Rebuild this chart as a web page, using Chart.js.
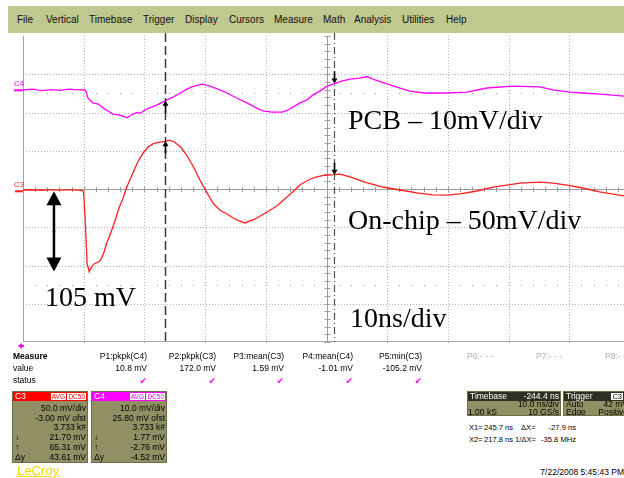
<!DOCTYPE html>
<html>
<head>
<meta charset="utf-8">
<script src="https://cdn.jsdelivr.net/npm/chart.js@4.4.1/dist/chart.umd.min.js"></script>
<style>
  html, body { margin: 0; padding: 0; }
  body {
    width: 624px; height: 478px; overflow: hidden; position: relative;
    background: #fff; color: #000;
    font-family: "Liberation Sans", Arial, sans-serif;
  }
  #scope { position: absolute; left: 0; top: 0; }
  .abs { position: absolute; white-space: nowrap; }
  .menu { position: absolute; left: 8px; top: 6px; width: 640px; height: 27px; background: #c0c78f; }
  .menu span { position: absolute; top: 8px; font-size: 10px; line-height: 11px; color: #111; }
  .note { position: absolute; white-space: nowrap; font-family: "Liberation Serif", "Times New Roman", serif;
          font-size: 28px; line-height: 28px; color: #000; }
  .chlab { position: absolute; font-size: 8px; line-height: 8px; }
  .meas { position: absolute; font-size: 8.5px; line-height: 11px; white-space: nowrap; }
  .grey { color: #b0b0b0; }
  .ok { position: absolute; font-family: "DejaVu Sans", sans-serif; font-size: 9px; line-height: 10px; color: #ff00ff; }
  .box { position: absolute; background: #909064; border: 1px solid #6e6e4a; box-sizing: border-box; overflow: hidden; }
  .box .hd { position: absolute; left: 0; top: 0; right: 0; height: 9px; }
  .box .hd span { position: absolute; top: 0; font-size: 8.5px; line-height: 9px; color: #fff; }
  .box .row { position: absolute; left: 0; right: 0; height: 10px; font-size: 8.5px; line-height: 10px; white-space: nowrap; }
  .box .row .l { position: absolute; left: 2px; }
  .box .row .r { position: absolute; right: 1px; }
  .tag { position: absolute; top: 1px; height: 7px; background: #fff; font-size: 6.5px; line-height: 7px; padding: 0 1px; }
  .info { position: absolute; font-size: 7.6px; line-height: 10px; white-space: nowrap; }
</style>
</head>
<body>
<canvas id="scope" width="640" height="350"></canvas>

<div class="menu">
  <span style="left:9px">File</span>
  <span style="left:38px">Vertical</span>
  <span style="left:81px">Timebase</span>
  <span style="left:135px">Trigger</span>
  <span style="left:177px">Display</span>
  <span style="left:221px">Cursors</span>
  <span style="left:266px">Measure</span>
  <span style="left:315px">Math</span>
  <span style="left:346px">Analysis</span>
  <span style="left:394px">Utilities</span>
  <span style="left:438px">Help</span>
</div>

<div class="chlab" style="left:14px;top:80px;color:#ff00ff">C4</div>
<div class="chlab" style="left:14px;top:181px;color:#ff2020">C3</div>

<div class="note" style="left:348px;top:106px">PCB – 10mV/div</div>
<div class="note" style="left:348px;top:206px">On-chip – 50mV/div</div>
<div class="note" style="left:45px;top:283px">105 mV</div>
<div class="note" style="left:350px;top:304px">10ns/div</div>

<!-- small marker below the grid -->
<div class="abs" style="left:18px;top:343px;width:0;height:0;border-top:3px solid transparent;border-bottom:3px solid transparent;border-right:4px solid #ff00ff"></div>
<div class="abs" style="left:21px;top:345px;width:3px;height:2px;background:#ff00ff"></div>

<!-- measurement table -->
<div class="meas" style="left:13px;top:351px;font-weight:bold">Measure</div>
<div class="meas" style="left:13px;top:363px">value</div>
<div class="meas" style="left:13px;top:375px">status</div>

<div class="meas" style="right:477px;top:351px">P1:pkpk(C4)</div>
<div class="meas" style="right:408px;top:351px">P2:pkpk(C3)</div>
<div class="meas" style="right:340px;top:351px">P3:mean(C3)</div>
<div class="meas" style="right:271px;top:351px">P4:mean(C4)</div>
<div class="meas" style="right:202px;top:351px">P5:min(C3)</div>
<div class="meas grey" style="left:467px;top:351px">P6:- - -</div>
<div class="meas grey" style="left:536px;top:351px">P7:- - -</div>
<div class="meas grey" style="left:605px;top:351px">P8:- - -</div>

<div class="meas" style="right:477px;top:363px">10.8 mV</div>
<div class="meas" style="right:408px;top:363px">172.0 mV</div>
<div class="meas" style="right:340px;top:363px">1.59 mV</div>
<div class="meas" style="right:271px;top:363px">-1.01 mV</div>
<div class="meas" style="right:202px;top:363px">-105.2 mV</div>

<div class="ok" style="right:477px;top:376px">✔</div>
<div class="ok" style="right:408px;top:376px">✔</div>
<div class="ok" style="right:340px;top:376px">✔</div>
<div class="ok" style="right:271px;top:376px">✔</div>
<div class="ok" style="right:202px;top:376px">✔</div>

<!-- channel descriptors -->
<div class="box" style="left:12px;top:391px;width:76px;height:72px">
  <div class="hd" style="background:#ff0000">
    <span style="left:2px">C3</span>
    <div class="tag" style="right:21px;color:#ff0000">AVG</div>
    <div class="tag" style="right:1px;color:#ff0000">DC50</div>
  </div>
  <div class="row" style="top:11px"><span class="r">50.0 mV/div</span></div>
  <div class="row" style="top:20.7px"><span class="r">-3.00 mV ofst</span></div>
  <div class="row" style="top:30.4px"><span class="r">3.733 k#</span></div>
  <div class="row" style="top:40.1px"><span class="l">↓</span><span class="r">21.70 mV</span></div>
  <div class="row" style="top:49.8px"><span class="l">↑</span><span class="r">65.31 mV</span></div>
  <div class="row" style="top:59.5px"><span class="l">Δy</span><span class="r">43.61 mV</span></div>
</div>
<div class="box" style="left:91px;top:391px;width:76px;height:72px">
  <div class="hd" style="background:#ff00ff">
    <span style="left:2px">C4</span>
    <div class="tag" style="right:21px;color:#ff00ff">AVG</div>
    <div class="tag" style="right:1px;color:#ff00ff">DC50</div>
  </div>
  <div class="row" style="top:11px"><span class="r">10.0 mV/div</span></div>
  <div class="row" style="top:20.7px"><span class="r">25.80 mV ofst</span></div>
  <div class="row" style="top:30.4px"><span class="r">3.733 k#</span></div>
  <div class="row" style="top:40.1px"><span class="l">↓</span><span class="r">1.77 mV</span></div>
  <div class="row" style="top:49.8px"><span class="l">↑</span><span class="r">-2.76 mV</span></div>
  <div class="row" style="top:59.5px"><span class="l">Δy</span><span class="r">-4.52 mV</span></div>
</div>

<div class="abs" style="left:17px;top:463px;font-size:13px;line-height:15px;color:#f2d800;text-decoration:underline">LeCroy</div>

<!-- timebase / trigger -->
<div class="box" style="left:467px;top:391px;width:94px;height:25px">
  <div class="hd" style="background:#2e2e22">
    <span style="left:2px">Timebase</span><span style="right:1px">-244.4 ns</span>
  </div>
  <div class="row" style="top:8px;height:8px;line-height:8px"><span class="r">10.0 ns/div</span></div>
  <div class="row" style="top:16px;height:8px;line-height:8px"><span class="l" style="left:0">1.00 kS</span><span class="r">10 GS/s</span></div>
</div>
<div class="box" style="left:563px;top:391px;width:80px;height:25px">
  <div class="hd" style="background:#2e2e22">
    <span style="left:2px">Trigger</span>
    <div class="tag" style="right:19px;color:#000;font-size:7.5px">C3</div>
  </div>
  <div class="row" style="top:8px;height:8px;line-height:8px"><span class="l">Auto</span><span class="r" style="right:14px">42 mV</span></div>
  <div class="row" style="top:16px;height:8px;line-height:8px"><span class="l">Edge</span><span class="r" style="right:14px">Positive</span></div>
</div>

<div class="info" style="left:469px;top:423px">X1=</div>
<div class="info" style="left:484px;top:423px">245.7 ns</div>
<div class="info" style="left:521px;top:423px">ΔX=</div>
<div class="info" style="right:48px;top:423px">-27.9 ns</div>
<div class="info" style="left:469px;top:435px">X2=</div>
<div class="info" style="left:484px;top:435px">217.8 ns</div>
<div class="info" style="left:515px;top:435px">1/ΔX=</div>
<div class="info" style="right:48px;top:435px">-35.8 MHz</div>

<div class="info" style="right:0;top:467px;font-size:8.5px">7/22/2008 5:45:43 PM</div>

<script>
// Acquisition settings (ns, mV)
const timePerDiv = 10;
const triggerDelay = -244.4;
const c3VoltsPerDiv = 50;
const c3Offset = -3.0;
const c4VoltsPerDiv = 10;
const c4Offset = 25.8;

// Cursor positions (ns) and the readings at each cursor (mV)
const cursorX1 = 245.7;
const cursorX2 = 217.8;
const c3AtX1 = 21.70, c3AtX2 = 65.31;
const c4AtX1 = 1.77,  c4AtX2 = -2.76;

// Annotated drop on the on-chip trace (mV)
const dropTop = 0;
const dropBottom = -105;
const dropArrowTime = 199.5;

// C3: on-chip supply (mV)
const c3Time = [194.4, 196.0, 197.5, 199.0, 200.5, 202.0, 203.5, 204.2, 204.4, 204.6, 204.8, 204.95,
  205.3, 205.6, 206.1, 206.8, 207.2, 207.7, 208.2, 208.9, 209.6, 210.2, 210.9, 211.5, 212.5, 213.3,
  214.2, 215.0, 215.8, 216.8, 217.8, 218.5, 219.3, 220.4, 221.4, 222.4, 223.5, 224.5, 225.7, 226.8,
  228.0, 229.3, 230.9, 232.6, 234.6, 236.2, 237.9, 239.2, 240.0, 241.7, 242.8, 244.1, 245.7, 246.6,
  248.3, 250.7, 253.7, 256.5, 259.3, 261.9, 264.2, 266.4, 269.2, 271.8, 274.1, 276.3, 279.5, 281.7,
  284.0, 286.6, 289.4, 291.4, 293.4, 294.4];
const c3Volts = [1.7, 2.0, 1.4, 2.2, 1.6, 2.1, 1.5, 1.0, -2.0, -31.0, -64.0, -94.0,
  -105.2, -100.0, -95.0, -92.4, -89.8, -80.6, -67.6, -53.6, -37.5, -21.8, -8.8, 5.6, 23.9, 38.3,
  50.1, 57.9, 62.0, 64.3, 65.3, 66.8, 64.8, 57.5, 46.8, 33.0, 15.5, 0.8, -15.3, -24.4,
  -29.7, -36.2, -41.4, -36.5, -27.1, -19.2, -7.5, 1.7, 8.2, 16.1, 18.7, 21.0, 21.7, 22.4,
  18.9, 12.1, 5.6, 1.7, -2.2, -4.6, -4.9, -3.5, 0.4, 5.4, 8.2, 10.6, 12.1, 10.8,
  8.2, 4.3, -0.9, -3.5, -6.1, -6.8];

// C4: PCB supply (mV)
const c4Time = [194.4, 196.0, 197.5, 199.0, 200.5, 202.0, 203.5, 204.5, 204.8, 205.1, 205.4, 205.9,
  206.8, 207.6, 208.4, 209.2, 210.4, 211.5, 212.0, 212.5, 213.2, 213.7, 214.8, 216.5, 217.8, 219.1,
  220.3, 221.2, 222.2, 223.9, 225.2, 226.5, 228.0, 229.6, 231.3, 232.6, 233.9, 235.4, 237.1, 238.0,
  238.9, 240.0, 241.2, 242.2, 243.3, 244.5, 245.7, 246.9, 248.3, 249.9, 251.1, 252.4, 254.0, 256.5,
  258.1, 260.6, 264.2, 267.5, 270.8, 275.1, 279.5, 281.7, 284.5, 286.6, 289.4, 291.1, 293.4, 294.4];
const c4Volts = [0.1, 0.3, -0.1, 0.2, 0.0, 0.3, 0.1, 0.2, -0.4, -2.0, -2.5, -3.3,
  -3.6, -4.6, -5.4, -6.2, -6.5, -7.2, -6.7, -6.2, -5.8, -6.0, -4.9, -3.8, -2.76, -1.8,
  -0.7, 0.1, 0.9, 1.6, 1.1, 0.3, -0.7, -2.0, -3.3, -4.4, -5.4, -5.7, -5.7, -5.2,
  -4.4, -3.3, -2.5, -1.2, -0.2, 1.1, 1.77, 2.4, 2.95, 3.2, 3.6, 2.7, 1.9, 0.6,
  -0.2, -0.7, -0.7, -0.45, 0.6, 1.1, 0.9, 0.1, -0.45, -0.7, -1.0, -1.2, -1.5, -1.5];

const hDivs = 10, vDivs = 8, minorPerDiv = 5;
const tCenter = -triggerDelay;
const tMin = tCenter - timePerDiv * hDivs / 2;
const tMax = tCenter + timePerDiv * hDivs / 2;

function pts(ts, vs) { return ts.map((t, i) => ({ x: t, y: vs[i] })); }

function dotLine(ctx, x0, y0, x1, y1, step) {
  const len = Math.hypot(x1 - x0, y1 - y0);
  for (let d = 0; d <= len; d += step) {
    const x = x0 + (x1 - x0) * d / len, y = y0 + (y1 - y0) * d / len;
    ctx.fillRect(Math.round(x), Math.round(y), 1, 1);
  }
}

function arrow(ctx, x, tipY, dir, shaft, headW, headH, lw) {
  // dir = -1 points up, +1 points down
  ctx.beginPath();
  ctx.lineWidth = lw;
  ctx.moveTo(x, tipY - dir * headH * 0.8);
  ctx.lineTo(x, tipY - dir * shaft);
  ctx.stroke();
  ctx.beginPath();
  ctx.moveTo(x, tipY);
  ctx.lineTo(x - headW / 2, tipY - dir * headH);
  ctx.lineTo(x + headW / 2, tipY - dir * headH);
  ctx.closePath();
  ctx.fill();
}

const scopeGraticule = {
  id: 'scopeGraticule',
  beforeDatasetsDraw(chart) {
    const { ctx, chartArea: a, scales } = chart;
    const xs = scales.x, ys = scales.y3;
    const yDiv = v => ys.getPixelForValue(-c3Offset + (v - vDivs / 2) * c3VoltsPerDiv);
    const xDiv = d => xs.getPixelForValue(tMin + d * timePerDiv);
    ctx.save();
    // dotted division lines
    ctx.fillStyle = '#b2b2b2';
    for (let d = 1; d < hDivs; d++) {
      if (d === hDivs / 2) continue;
      dotLine(ctx, xDiv(d), a.top, xDiv(d), a.bottom, 3);
    }
    for (let v = 1; v < vDivs; v++) {
      if (v === vDivs / 2) continue;
      dotLine(ctx, a.left, yDiv(v), a.right, yDiv(v), 3);
    }
    // sparse marks at +/- 2.5 divisions
    ctx.fillStyle = '#a0a0a0';
    [1.5, 6.5].forEach(v => {
      const py = Math.round(yDiv(v));
      for (let d = 0; d <= hDivs * minorPerDiv; d++) {
        ctx.fillRect(Math.round(xDiv(d / minorPerDiv)), py, 1, 1);
      }
    });
    // centre axes with minor ticks
    ctx.strokeStyle = '#9c9c9c';
    ctx.lineWidth = 1;
    const cx = Math.round(xDiv(hDivs / 2)) + 0.5;
    const cy = Math.round(yDiv(vDivs / 2)) + 0.5;
    ctx.beginPath();
    ctx.moveTo(cx, a.top); ctx.lineTo(cx, a.bottom);
    ctx.moveTo(a.left, cy); ctx.lineTo(a.right, cy);
    for (let d = 0; d <= hDivs * minorPerDiv; d++) {
      const px = Math.round(xDiv(d / minorPerDiv)) + 0.5;
      ctx.moveTo(px, cy - 2.5); ctx.lineTo(px, cy + 2.5);
    }
    for (let v = 0; v <= vDivs * minorPerDiv; v++) {
      const py = Math.round(yDiv(v / minorPerDiv)) + 0.5;
      ctx.moveTo(cx - 3, py); ctx.lineTo(cx + 3, py);
    }
    ctx.stroke();
    // frame: left and bottom edges
    ctx.strokeStyle = '#a4a4a4';
    ctx.beginPath();
    ctx.moveTo(Math.round(a.left) + 0.5, a.top); ctx.lineTo(Math.round(a.left) + 0.5, a.bottom);
    ctx.moveTo(a.left, Math.round(a.bottom) - 0.5); ctx.lineTo(a.right, Math.round(a.bottom) - 0.5);
    ctx.stroke();
    // channel ground markers
    ctx.lineWidth = 2;
    ctx.strokeStyle = '#ff00ff';
    const g4 = scales.y4.getPixelForValue(0);
    ctx.beginPath(); ctx.moveTo(14, g4); ctx.lineTo(a.left, g4); ctx.stroke();
    ctx.strokeStyle = '#ff2020';
    const g3 = scales.y3.getPixelForValue(0);
    ctx.beginPath(); ctx.moveTo(15, g3); ctx.lineTo(a.left, g3); ctx.stroke();
    ctx.restore();
  },
  afterDatasetsDraw(chart) {
    const { ctx, chartArea: a, scales } = chart;
    const xs = scales.x, y3 = scales.y3, y4 = scales.y4;
    ctx.save();
    // cursors
    const x2 = Math.round(xs.getPixelForValue(cursorX2)) + 0.5;
    const x1 = Math.round(xs.getPixelForValue(cursorX1)) + 0.5;
    ctx.strokeStyle = '#3a3a3a';
    ctx.lineWidth = 1.5;
    ctx.setLineDash([9, 4]);
    ctx.beginPath(); ctx.moveTo(x2, a.top - 3); ctx.lineTo(x2, a.bottom); ctx.stroke();
    ctx.strokeStyle = '#505050';
    ctx.lineWidth = 1.2;
    ctx.setLineDash([7, 3, 1, 3]);
    ctx.beginPath(); ctx.moveTo(x1, a.top - 3); ctx.lineTo(x1, a.bottom); ctx.stroke();
    ctx.setLineDash([]);
    // cursor readout arrows
    ctx.strokeStyle = '#000';
    ctx.fillStyle = '#000';
    arrow(ctx, x2, y4.getPixelForValue(c4AtX2), -1, 12, 6, 5, 1.6);
    arrow(ctx, x2, y3.getPixelForValue(c3AtX2), -1, 12, 6, 5, 1.6);
    arrow(ctx, x1, y4.getPixelForValue(c4AtX1), 1, 12, 6, 5, 1.6);
    arrow(ctx, x1, y3.getPixelForValue(c3AtX1), 1, 12, 6, 5, 1.6);
    // double-headed arrow spanning the drop
    const ax = xs.getPixelForValue(dropArrowTime);
    const yTop = y3.getPixelForValue(dropTop);
    const yBot = y3.getPixelForValue(dropBottom);
    const span = yBot - yTop;
    arrow(ctx, ax, yTop, -1, span / 2 + 1, 15, 14, 2.5);
    arrow(ctx, ax, yBot, 1, span / 2 + 1, 15, 14, 2.5);
    ctx.restore();
  }
};

new Chart(document.getElementById('scope'), {
  type: 'line',
  data: {
    datasets: [
      { label: 'C4', data: pts(c4Time, c4Volts), yAxisID: 'y4',
        borderColor: '#ff00ff', borderWidth: 1.3, pointRadius: 0, tension: 0 },
      { label: 'C3', data: pts(c3Time, c3Volts), yAxisID: 'y3',
        borderColor: '#ff2020', borderWidth: 1.3, pointRadius: 0, tension: 0 }
    ]
  },
  options: {
    responsive: false,
    devicePixelRatio: 1,
    animation: false,
    events: [],
    layout: { padding: { left: 23, top: 36, right: 10, bottom: 8 } },
    plugins: { legend: { display: false }, tooltip: { enabled: false } },
    scales: {
      x: { type: 'linear', display: false, min: tMin, max: tMax },
      y3: { type: 'linear', display: false,
            min: -vDivs / 2 * c3VoltsPerDiv - c3Offset, max: vDivs / 2 * c3VoltsPerDiv - c3Offset },
      y4: { type: 'linear', display: false,
            min: -vDivs / 2 * c4VoltsPerDiv - c4Offset, max: vDivs / 2 * c4VoltsPerDiv - c4Offset }
    }
  },
  plugins: [scopeGraticule]
});
</script>
</body>
</html>
